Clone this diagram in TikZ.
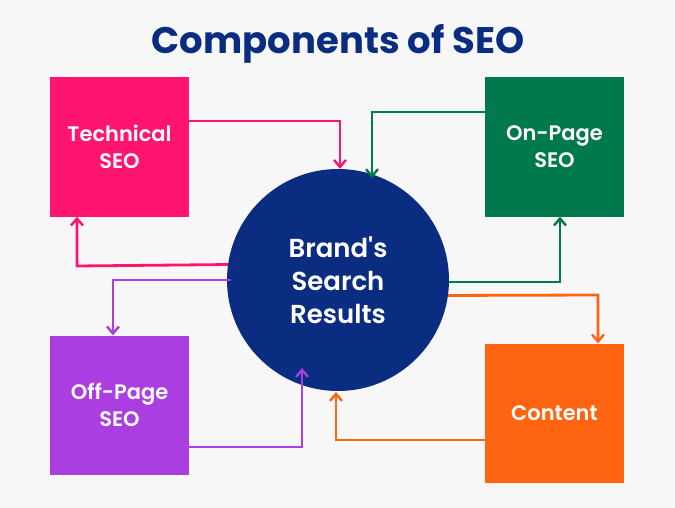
\documentclass[tikz,border=0pt]{standalone}
\usepackage{fontspec}
\setmainfont{Poppins}[BoldFont={Poppins SemiBold}]
\newfontfamily\titlefont{Poppins Bold}
\usetikzlibrary{arrows.meta}
\definecolor{navy}{HTML}{0A2D82}
\definecolor{techpink}{HTML}{FF1470}
\definecolor{pagegreen}{HTML}{007A4D}
\definecolor{offpurple}{HTML}{AA3EE0}
\definecolor{contorange}{HTML}{FF6510}
\definecolor{bgray}{HTML}{F7F7F7}

\begin{document}
\begin{tikzpicture}[x=1pt,y=-1pt,
    box/.style={minimum size=139pt,inner sep=0pt,align=center,text=white,font=\fontsize{21}{27}\selectfont\bfseries},
    link/.style={line width=2.8pt,-{Straight Barb[length=7pt,width=12pt,line width=2.4pt]}}]
  \fill[bgray] (0,0) rectangle (675,508);
  \useasboundingbox (0,0) rectangle (675,508);

  \node[text=navy,font=\titlefont\fontsize{37}{40}\selectfont] (title) at (338,44) {Components of SEO};

  \node[box,fill=techpink] (tech) at (119.5,147) {Technical\\SEO};
  \node[box,fill=pagegreen] (onpage) at (554.5,147) {On-Page\\SEO};
  \node[box,fill=offpurple] (offpage) at (119.5,405) {Off-Page\\SEO};
  \node[box,fill=contorange] (content) at (554.5,413) {Content};
  \node[circle,fill=navy,minimum size=222pt,inner sep=0pt,align=center,text=white,
        font=\fontsize{26}{33}\selectfont\bfseries] (brand) at (338,280) {Brand\textquotesingle s\\Search\\Results};

  % connectors
  \draw[link,techpink] ([yshift=26]tech.east) -| ([xshift=2]brand.north);
  \draw[link,techpink] (brand.180-8) -- (77,266) -- (tech.south -| 77,0);
  \draw[link,pagegreen] ([yshift=35]onpage.west) -| (372,178);
  \draw[link,pagegreen] (brand.east) ++(0,2) -- (560,282) -- (onpage.south -| 560,0);
  \draw[link,offpurple] (brand.180) ++(4,0) -- (113,280) -- (offpage.north -| 113,0);
  \draw[link,offpurple] ([yshift=-42]offpage.east) -| (302,368);
  \draw[link,contorange] (brand.0-8) -- (598,295) -- (content.north -| 598,0);
  \draw[link,contorange] ([yshift=-27]content.west) -| (336,392);
\end{tikzpicture}
\end{document}
